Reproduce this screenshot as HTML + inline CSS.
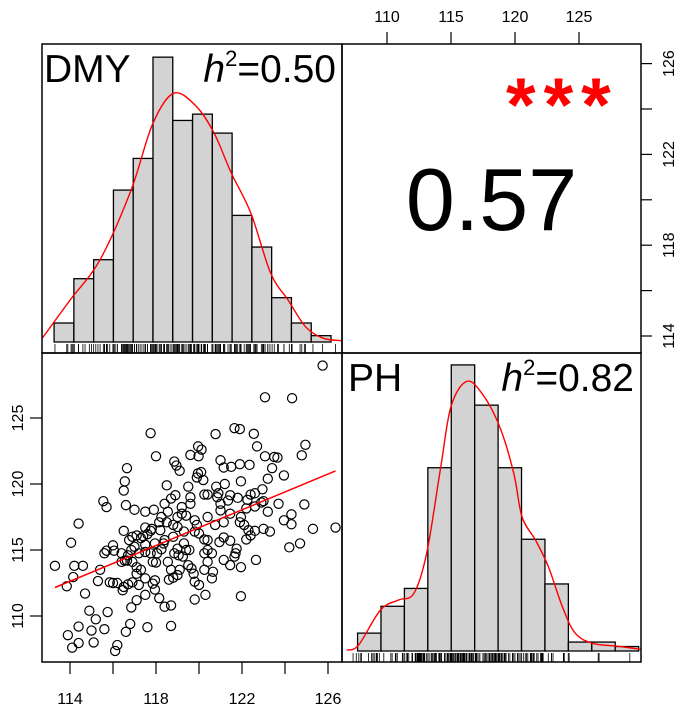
<!DOCTYPE html>
<html><head><meta charset="utf-8"><style>
html,body{margin:0;padding:0;background:#fff;}
svg{display:block;font-family:"Liberation Sans",sans-serif;}
</style></head><body>
<svg id="c" width="685" height="706" viewBox="0 0 685 706"></svg>
<script>
// ---- data ----
const dmyCounts = [3,10,13,24,29,45,35,36,33,20,15,7,3,1];
const dmyBinStart = 113.26, dmyBinWidth = 0.92;
const phCounts = [4,10,14,41,64,55,41,25,15,2,2,1];
const phBinStart = 107.7, phBinWidth = 1.83;
const dmyDensX = [112.73,114.0,115.4,116.84,117.85,118.83,119.88,120.7,121.5,122.42,123.33,124.15,124.96,125.77,126.65];
const dmyDensY = [0.7,6.6,13,24,34.5,39.3,37.2,33,26.7,20.3,10.9,6.6,2.4,0.6,0.2];
const phDensX = [106.84,107.77,109.5,110.9,112.1,113.1,114.2,115.0,116.2,117.4,118.8,119.9,120.55,121.6,122.6,123.7,124.7,126.1,128.2,130.5];
const phDensY = [0.2,1.3,9.2,11.4,12.9,21.9,41.2,54.7,60.3,57.7,50.2,39.8,30,24.8,18.9,9.9,4,1.7,1,0.1];
const dmy = [125.75,123.07,124.33,121.65,121.9,117.75,120.77,122.55,124.95,122.7,119.96,120.12,118,119.6,119.98,124.78,123.07,123.5,123.65,118.85,118.95,121,121.9,122.35,121.5,121.15,116.65,119.1,123.4,123.95,119.95,120.1,119.9,120.2,116.55,121.95,123.2,118.5,116.5,119.5,120.8,121.2,122.95,120.4,120.25,120.9,121.45,122.4,122.6,118.9,118.7,115.55,115.7,116.6,117,117.5,117.9,118.4,119.6,119.6,121,121.8,122.25,122.9,123,123.7,124.9,123.2,124.3,122.6,122.2,119.2,119.4,119.8,119.9,120.4,121,121.45,121.9,122.1,122.3,122.6,123,123.3,123.95,124.3,125.3,126.35,114.4,116.5,116.9,117.1,117.3,117.6,117.5,117.8,118.2,118.5,118.8,119,119.3,118.8,118.4,117.95,117.5,117,116.75,116.85,116.7,116.55,116.9,117.1,117.3,117.1,117.5,117.85,117.95,118.15,118.4,118.7,118.7,117.6,116.8,116.6,116.85,116.2,116.1,115.6,115.1,114.4,114.1,113.9,114.4,115,115.2,114.9,115.75,114.7,113.85,114.15,113.3,114.2,114.6,114.05,115.4,115.3,115.85,115.6,115.7,116,116.05,116.2,116.5,116.45,116.7,116.9,117.2,117.75,117.85,118,118.05,118.25,118.55,118.7,118.8,118.6,119,119.1,119.25,119.4,119.55,119.65,119.75,119.8,120,120.3,119.8,120.25,120.4,120.4,120.6,120.65,120.6,120.95,121.15,121.45,121.75,121.7,121.65,121.15,121.45,121.95,122.65,121.95,122.2,122.4,124.2,124.7,120.4,120.25,120,119.8,119.3,119,118.85,119.05,118.35,117.5,117.2,116.4,116,117.1,117.5,117.95,120.75,121.15,120.85,121.35,119.2,119,118.55,118.25,118.15,117.75,117.4,121.95,120.25,119.5,116.4,116.65];
const ph = [128.97,126.57,126.5,124.23,124.16,123.85,123.78,123.8,122.97,122.85,122.85,122.6,122.1,122.2,122.1,122.17,122.1,122.05,122,121.7,121.4,121.8,121.5,121.45,121.3,121.25,121.2,121,121.2,120.65,120.8,120.9,120.5,120.3,120.2,120.2,120.4,119.9,119.5,119.8,119.8,120,119.6,119.2,119.2,119.3,119.15,119.2,119.3,119.15,118.9,118.7,118.25,118.4,118.05,117.9,118.05,118.5,119,118.5,118.5,118.95,118.8,118.6,118.7,118.5,118.45,117.9,117.7,118.3,118.15,118.25,117.6,117.25,116.9,117.5,118,117.75,117.1,116.9,116.5,116.45,116.6,116.4,117.25,116.95,116.6,116.7,117,116.45,116,116.1,115.9,116.2,116.7,116.6,116.5,117.1,116.9,116.75,116.4,116,115.75,115.5,115.4,115.25,115.75,115,114.6,114.2,114.1,113.7,113.5,113.2,112.85,112.45,112,111.35,110.7,110.8,109.25,109.15,109.4,108.8,110.65,107.8,107.35,109,108,107.95,107.6,108.55,109.2,108.9,109.75,110.4,110.3,111.7,112.25,112.95,113.8,113.8,113.8,115.55,113.5,112.65,112.55,114.75,114.95,115.35,114.95,112.5,112.2,111.95,112.4,112.55,112.35,114.75,114.1,114.05,114.75,115.05,114.1,113.5,112.9,112.75,113.1,113.5,114.5,115,115,113.6,113.2,112.6,112.35,111.6,111.25,113.5,114.1,115,114.75,113.35,112.85,115.6,115.95,115.7,115.1,114.75,114.5,114.25,113.85,113.7,114.25,111.5,115.8,116.1,115.2,115.5,115.75,115.8,116.25,116.4,115.5,115.1,114.75,114.6,115.5,114.85,114.75,114.1,112.5,111.2,111.6,112.7,116.9,117.1,119,118.75,117.75,117.5,117.9,117.5,117.1,116.45,116.05,117.5,114.75,113.85,114.75,114.2];
const dmyTicks = [114,118,122,126], dmyMinor = [116,120,124];
const phTicks = [110,115,120,125];
const phRightTicks = [114,118,122,126], phRightMinor = [116,120,124];
const scatYTicks = [110,115,120,125];

// ---- scales ----
const L=42,M=342,R=641,T=44,MID=353,B=662;
const xD = v => 70 + (v-114)*21.5;
const xP = v => 387 + (v-110)*12.8;
const yPr = v => 336 - (v-114)*22.7;
const yS = v => 616 - (v-110)*13.2;
const yDh = c => 342 - c*6.33;
const yPh = c => 651 - c*4.47;

const svg=document.getElementById('c');const NS='http://www.w3.org/2000/svg';
function mk(tag,attrs,parent){const e=document.createElementNS(NS,tag);for(const k in attrs)e.setAttribute(k,attrs[k]);(parent||svg).appendChild(e);return e;}
function txt(s,attrs,parent){const e=mk('text',attrs,parent);e.textContent=s;return e;}
function smooth(pts){let d='M'+pts[0][0].toFixed(1)+' '+pts[0][1].toFixed(1);
  for(let i=0;i<pts.length-1;i++){const p0=pts[i-1]||pts[i],p1=pts[i],p2=pts[i+1],p3=pts[i+2]||p2;
    const c1=[p1[0]+(p2[0]-p0[0])/6,p1[1]+(p2[1]-p0[1])/6],c2=[p2[0]-(p3[0]-p1[0])/6,p2[1]-(p3[1]-p1[1])/6];
    d+=` C${c1[0].toFixed(1)} ${c1[1].toFixed(1)} ${c2[0].toFixed(1)} ${c2[1].toFixed(1)} ${p2[0].toFixed(1)} ${p2[1].toFixed(1)}`;}
  return d;}

const defs=mk('defs',{});
[['cTL',L,T,M-L,MID-T],['cBR',M,MID,R-M,B-MID],['cBL',L,MID,M-L,B-MID]].forEach(a=>{const cp=mk('clipPath',{id:a[0]},defs);mk('rect',{x:a[1],y:a[2],width:a[3],height:a[4]},cp);});

// ---- DMY histogram ----
const gH1=mk('g',{'clip-path':'url(#cTL)'});


dmyCounts.forEach((c,i)=>{
  const x0=xD(dmyBinStart+i*dmyBinWidth),x1=xD(dmyBinStart+(i+1)*dmyBinWidth);
  const r=mk('rect',{x:x0,y:yDh(c),width:x1-x0,height:yDh(0)-yDh(c),fill:'#d3d3d3',stroke:'#000','stroke-width':1.3},gH1);
  
  
});
const d1=mk('path',{d:smooth(dmyDensX.map((x,i)=>[xD(x),yDh(dmyDensY[i])])),fill:'none',stroke:'#f00','stroke-width':1.4},gH1);


dmy.forEach(v=>{const l=mk('line',{x1:xD(v),x2:xD(v),y1:344,y2:353,stroke:'#000','stroke-width':0.8},gH1);
  
  });

// ---- PH histogram ----
const gH2=mk('g',{'clip-path':'url(#cBR)'});


phCounts.forEach((c,i)=>{
  const x0=xP(phBinStart+i*phBinWidth),x1=xP(phBinStart+(i+1)*phBinWidth);
  const r=mk('rect',{x:x0,y:yPh(c),width:x1-x0,height:yPh(0)-yPh(c),fill:'#d3d3d3',stroke:'#000','stroke-width':1.3},gH2);
  
  
});
const d2=mk('path',{d:smooth(phDensX.map((x,i)=>[xP(x),yPh(phDensY[i])])),fill:'none',stroke:'#f00','stroke-width':1.4},gH2);


ph.forEach(v=>{const l=mk('line',{x1:xP(v),x2:xP(v),y1:653,y2:662,stroke:'#000','stroke-width':0.8},gH2);
  
  });

// ---- scatter ----
const gS=mk('g',{'clip-path':'url(#cBL)'});


dmy.forEach((v,i)=>{const c=mk('circle',{cx:xD(v),cy:yS(ph[i]),r:4.6,fill:'none',stroke:'#000','stroke-width':1.2},gS);
  
  });
const n=dmy.length,mx=dmy.reduce((a,b)=>a+b)/n,my=ph.reduce((a,b)=>a+b)/n;
let sxy=0,sxx=0;dmy.forEach((v,i)=>{sxy+=(v-mx)*(ph[i]-my);sxx+=(v-mx)*(v-mx);});
const sl=sxy/sxx*0.85,ic=my-sl*mx;const xa=Math.min(...dmy),xb=Math.max(...dmy);
const fl=mk('line',{x1:xD(xa),y1:yS(ic+sl*xa),x2:xD(xb),y2:yS(ic+sl*xb),stroke:'#f00','stroke-width':1.5},gS);



// ---- panel borders ----
[[L,T,M-L,MID-T],[M,T,R-M,MID-T],[L,MID,M-L,B-MID],[M,MID,R-M,B-MID]].forEach(a=>{
  const r=mk('rect',{x:a[0],y:a[1],width:a[2],height:a[3],fill:'none',stroke:'#000','stroke-width':1.5});
  
  
});

// ---- axes ----
const ax=mk('g',{stroke:'#000','stroke-width':1.2,fill:'#000','font-size':'16px'});


phTicks.forEach(v=>{mk('line',{x1:xP(v),x2:xP(v),y1:T,y2:T-12},ax);
  const t=txt(String(v),{x:xP(v),y:22,'text-anchor':'middle',stroke:'none'},ax);
  
  });
phRightTicks.concat(phRightMinor).forEach(v=>mk('line',{x1:R,x2:R+11,y1:yPr(v),y2:yPr(v)},ax));
phRightTicks.forEach(v=>{const t=txt(String(v),{x:0,y:0,'text-anchor':'middle',stroke:'none',transform:`translate(674 ${yPr(v)}) rotate(-90)`},ax);
  
  });
dmyTicks.concat(dmyMinor).forEach(v=>mk('line',{x1:xD(v),x2:xD(v),y1:B,y2:B+12},ax));
dmyTicks.forEach(v=>{const t=txt(String(v),{x:xD(v),y:704,'text-anchor':'middle',stroke:'none'},ax);
  
  });
scatYTicks.forEach(v=>{mk('line',{x1:L,x2:L-12,y1:yS(v),y2:yS(v)},ax);
  const t=txt(String(v),{x:0,y:0,'text-anchor':'middle',stroke:'none',transform:`translate(23 ${yS(v)}) rotate(-90)`},ax);
  
  });
</script>
<div style="position:absolute;left:0;top:0;width:685px;height:706px;pointer-events:none;font-family:'Liberation Sans',sans-serif;">
  <div style="position:absolute;left:44px;top:48px;font-size:39px;line-height:44px;">DMY</div>
  <div style="position:absolute;right:349px;top:48px;font-size:39px;line-height:44px;"><i>h</i><sup style="font-size:22px;vertical-align:16px;line-height:0">2</sup>=0.50</div>
  <div style="position:absolute;left:342px;width:299px;text-align:center;top:150px;font-size:88px;line-height:100px;">0.57</div>
  <div style="position:absolute;left:506px;top:66px;font-size:76px;line-height:80px;color:#f00;font-weight:bold;letter-spacing:8px;">***</div>
  <div style="position:absolute;left:348px;top:357px;font-size:39px;line-height:44px;">PH</div>
  <div style="position:absolute;right:51px;top:357px;font-size:39px;line-height:44px;"><i>h</i><sup style="font-size:22px;vertical-align:16px;line-height:0">2</sup>=0.82</div>
</div>
</body></html>
